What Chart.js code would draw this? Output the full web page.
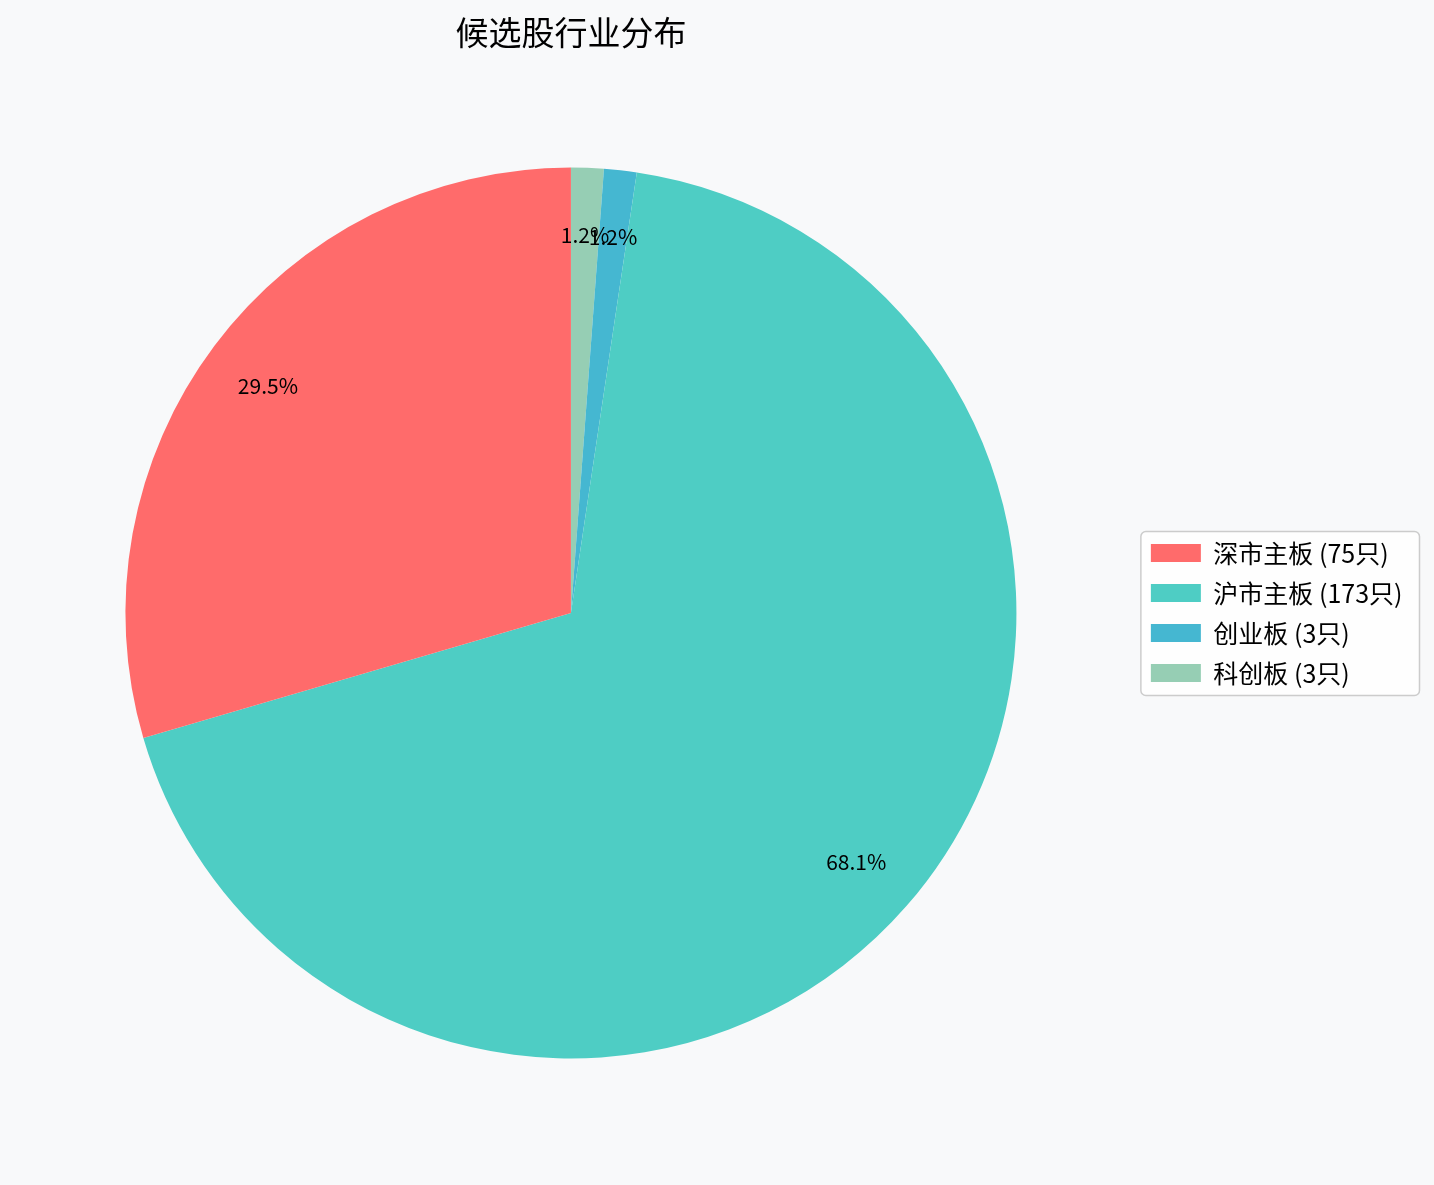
<!DOCTYPE html>
<html>
<head>
<meta charset="utf-8">
<script src="https://cdn.jsdelivr.net/npm/chart.js@4.4.1/dist/chart.umd.min.js"></script>
<style>
  html, body { margin: 0; padding: 0; background: #F8F9FA; }
  canvas { display: block; }
</style>
</head>
<body>
<canvas id="pieChart" width="1434" height="1185"></canvas>
<script>
// 板块名称和候选股数量
const boards = ['深市主板', '沪市主板', '创业板', '科创板'];
const counts = [75, 173, 3, 3];
const colors = ['#FF6B6B', '#4ECDC4', '#45B7D1', '#96CEB4'];
const titleText = '候选股行业分布';

const legendLabels = boards.map((b, i) => `${b} (${counts[i]}只)`);
const total = counts.reduce((a, b) => a + b, 0);

// 原图是逆时针画的, Chart.js 是顺时针 -> 把顺序反过来
const labelsRev = legendLabels.slice().reverse();
const countsRev = counts.slice().reverse();
const colorsRev = colors.slice().reverse();

Chart.defaults.font.family = '"Noto Sans CJK SC", "Noto Sans", sans-serif';
Chart.defaults.color = '#000';

// 背景色 + 图例边框
const background = {
    id: 'background',
    beforeDraw(chart) {
        const ctx = chart.ctx;
        ctx.save();
        ctx.fillStyle = '#F8F9FA';
        ctx.fillRect(0, 0, chart.width, chart.height);

        const boxes = chart.legend.legendHitBoxes;
        if (boxes && boxes.length) {
            const left = Math.min(...boxes.map(b => b.left)) - 10;
            const top = Math.min(...boxes.map(b => b.top)) - 9;
            const bottom = Math.max(...boxes.map(b => b.top + b.height)) + 10;
            const right = chart.legend.left + chart.legend.width + 7;
            ctx.beginPath();
            ctx.roundRect(left, top, right - left, bottom - top, 5);
            ctx.fillStyle = 'rgba(255,255,255,0.8)';
            ctx.fill();
            ctx.lineWidth = 1.5;
            ctx.strokeStyle = '#cccccc';
            ctx.stroke();
        }
        ctx.restore();
    }
};

// 扇区上的百分比
const percentLabels = {
    id: 'percentLabels',
    afterDatasetsDraw(chart) {
        const ctx = chart.ctx;
        const meta = chart.getDatasetMeta(0);
        const data = chart.data.datasets[0].data;
        ctx.save();
        ctx.font = '21px "Noto Sans CJK SC"';
        ctx.fillStyle = '#000';
        ctx.textAlign = 'center';
        ctx.textBaseline = 'middle';
        for (let i = meta.data.length - 1; i >= 0; i--) {
            const p = meta.data[i].getProps(['x', 'y', 'startAngle', 'endAngle', 'outerRadius'], true);
            const mid = (p.startAngle + p.endAngle) / 2;
            const r = p.outerRadius * 0.85;
            const pct = (data[i] / total * 100).toFixed(1) + '%';
            ctx.fillText(pct, p.x + Math.cos(mid) * r, p.y + Math.sin(mid) * r);
        }
        ctx.restore();
    }
};

new Chart(document.getElementById('pieChart'), {
    type: 'pie',
    data: {
        labels: labelsRev,
        datasets: [{
            data: countsRev,
            backgroundColor: colorsRev,
            borderWidth: 0,
            hoverOffset: 0,
            offset: 0,
        }],
    },
    options: {
        responsive: false,
        animation: false,
        devicePixelRatio: 1,
        events: [],
        layout: {
            padding: { left: 6, right: 21.5, top: 0, bottom: 126.5 },
        },
        plugins: {
            title: {
                display: true,
                text: titleText,
                fullSize: false,
                color: '#000',
                font: { size: 33, weight: 'normal', lineHeight: 1.2 },
                padding: { top: 12.2, bottom: 115.7 },
            },
            legend: {
                position: 'right',
                fullSize: false,
                reverse: true,
                labels: {
                    boxWidth: 50,
                    boxHeight: 18,
                    padding: 15,
                    color: '#000',
                    font: { size: 25 },
                },
            },
            tooltip: { enabled: false },
        },
    },
    plugins: [background, percentLabels],
});
</script>
</body>
</html>
